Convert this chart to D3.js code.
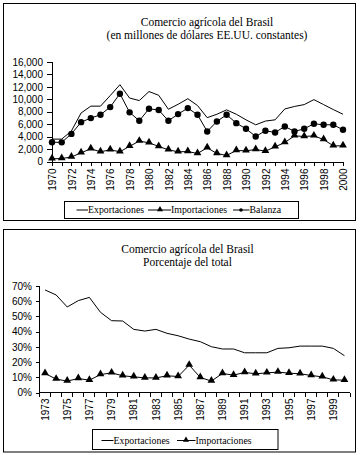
<!DOCTYPE html>
<html>
<head>
<meta charset="utf-8">
<script src="https://cdn.jsdelivr.net/npm/d3@7"></script>
<style>
  body { margin: 0; background: #fff; }
  .axis text { font-family: "Liberation Sans", Arial, sans-serif; font-size: 10px; fill: #000; }
  .axis path, .axis line { stroke: #000; shape-rendering: crispEdges; }
  .title { font-family: "Liberation Serif", "Times New Roman", serif; font-size: 11.5px; text-anchor: middle; }
  .legend text { font-family: "Liberation Serif", "Times New Roman", serif; font-size: 9.8px; }
</style>
</head>
<body>
<div id="chart"></div>
<script>
// panel 1: values in millions of constant US dollars
var years1 = d3.range(1970, 2001);
var exportaciones = [3600, 3600, 4900, 7800, 8900, 8900, 10600, 12350, 10200, 9800,
  11250, 10650, 8400, 9200, 10100, 9000, 7050, 7600, 8300, 7600,
  6700, 5900, 6500, 6700, 8450, 8850, 9150, 9950, 9150, 8350, 7600];
var importaciones = [430, 480, 720, 1400, 2040, 1560, 1880, 1560, 2450, 3280,
  3010, 2420, 1880, 1560, 1600, 1290, 2200, 1290, 970, 1770,
  1720, 1930, 1660, 2360, 3060, 4120, 4030, 4120, 3540, 2520, 2520];
var balanza = [3100, 3080, 4440, 6330, 6980, 7520, 8750, 10900, 7900, 6550,
  8480, 8270, 6550, 7620, 8590, 7520, 4830, 6440, 7520, 6170,
  5260, 4030, 4940, 4670, 5640, 4830, 5260, 6070, 5900, 5900, 5100];
var yTicks1 = d3.range(0, 16001, 2000);

// panel 2: share of total trade
var years2 = d3.range(1973, 2001);
var expShare = [0.674, 0.641, 0.562, 0.604, 0.625, 0.527, 0.472, 0.470, 0.415, 0.404,
  0.415, 0.389, 0.373, 0.351, 0.334, 0.301, 0.286, 0.286, 0.261, 0.261,
  0.261, 0.290, 0.294, 0.305, 0.305, 0.305, 0.290, 0.242];
var impShare = [0.125, 0.088, 0.075, 0.092, 0.081, 0.118, 0.129, 0.110, 0.103, 0.096,
  0.096, 0.110, 0.105, 0.180, 0.099, 0.075, 0.125, 0.114, 0.132, 0.123,
  0.129, 0.134, 0.127, 0.123, 0.112, 0.103, 0.083, 0.081];
var yTicks2 = d3.range(0, 0.71, 0.1);

var svg = d3.select("#chart").append("svg")
    .attr("width", 361)
    .attr("height", 455);

var triangle = d3.symbol().type(d3.symbolTriangle);

// ---------- panel 1 ----------
var p1 = svg.append("g");
p1.append("rect")
    .attr("x", 3.5).attr("y", 3.5).attr("width", 352).attr("height", 217)
    .attr("fill", "#fff").attr("stroke", "#000");

p1.append("text").attr("class", "title").attr("x", 207).attr("y", 26)
    .text("Comercio agrícola del Brasil");
p1.append("text").attr("class", "title").attr("x", 207).attr("y", 38.5)
    .text("(en millones de dólares EE.UU. constantes)");

var x1 = d3.scalePoint().domain(years1).range([52, 343]);
var y1 = d3.scaleLinear().domain([0, 16000]).range([161.5, 62]);

p1.append("g").attr("class", "axis")
    .attr("transform", "translate(52,0)")
    .call(d3.axisLeft(y1).tickValues(yTicks1).tickSize(5).tickPadding(4).tickFormat(d3.format(",")))
    .call(g => g.select(".domain").attr("d", "M0," + y1(16000) + "V" + y1(0)));

var xAxis1 = p1.append("g").attr("class", "axis")
    .attr("transform", "translate(0,161.5)")
    .call(d3.axisBottom(x1).tickSize(4).tickSizeOuter(0)
      .tickFormat(d => d % 2 === 0 ? d : ""));
xAxis1.selectAll("text")
    .attr("transform", "rotate(-90)")
    .attr("text-anchor", "end")
    .attr("x", -7).attr("y", 0).attr("dy", "0.36em");

var line1 = (vals) => d3.line().x((d, i) => x1(years1[i])).y(d => y1(d))(vals);

p1.append("path").attr("d", line1(exportaciones))
    .attr("fill", "none").attr("stroke", "#000").attr("stroke-width", 1);
p1.append("path").attr("d", line1(importaciones))
    .attr("fill", "none").attr("stroke", "#000").attr("stroke-width", 1);
p1.append("path").attr("d", line1(balanza))
    .attr("fill", "none").attr("stroke", "#000").attr("stroke-width", 1);

p1.selectAll(".tri").data(importaciones).enter().append("path")
    .attr("d", triangle.size(26))
    .attr("transform", (d, i) => `translate(${x1(years1[i])},${y1(d) - 0.5})`)
    .attr("fill", "#000");
p1.selectAll(".dot").data(balanza).enter().append("circle")
    .attr("cx", (d, i) => x1(years1[i]))
    .attr("cy", d => y1(d))
    .attr("r", 3.2)
    .attr("fill", "#000");

// legend 1
var lg1 = p1.append("g").attr("class", "legend");
lg1.append("rect").attr("x", 64.5).attr("y", 201.5).attr("width", 234).attr("height", 17)
    .attr("fill", "#fff").attr("stroke", "#000");
var ly1 = 210;
lg1.append("line").attr("x1", 76.5).attr("x2", 88).attr("y1", ly1).attr("y2", ly1).attr("stroke", "#000");
lg1.append("text").attr("x", 88).attr("y", ly1).attr("dy", "0.33em").text("Exportaciones");
lg1.append("line").attr("x1", 148).attr("x2", 171).attr("y1", ly1).attr("y2", ly1).attr("stroke", "#000");
lg1.append("path").attr("d", d3.symbol().type(d3.symbolTriangle).size(16)())
    .attr("transform", `translate(160,${ly1 - 0.5})`);
lg1.append("text").attr("x", 171).attr("y", ly1).attr("dy", "0.33em").text("Importaciones");
lg1.append("line").attr("x1", 233).attr("x2", 249.5).attr("y1", ly1).attr("y2", ly1).attr("stroke", "#000");
lg1.append("circle").attr("cx", 241).attr("cy", ly1).attr("r", 1.8);
lg1.append("text").attr("x", 249.5).attr("y", ly1).attr("dy", "0.33em").text("Balanza");

// ---------- panel 2 ----------
var p2 = svg.append("g");
p2.append("rect")
    .attr("x", 3.5).attr("y", 229.5).attr("width", 352).attr("height", 222.5)
    .attr("fill", "#fff").attr("stroke", "#000");

p2.append("text").attr("class", "title").attr("x", 187.5).attr("y", 252.5)
    .text("Comercio agrícola del Brasil");
p2.append("text").attr("class", "title").attr("x", 187.5).attr("y", 266)
    .text("Porcentaje del total");

var x2 = d3.scaleBand().domain(years2).range([39.5, 350]);
var y2 = d3.scaleLinear().domain([0, 0.7]).range([392.5, 286]);

p2.append("g").attr("class", "axis")
    .attr("transform", "translate(39.5,0)")
    .call(d3.axisLeft(y2).tickValues(yTicks2).tickSize(4).tickPadding(3.5).tickFormat(d3.format(".0%")))
    .call(g => g.select(".domain").attr("d", "M0," + y2(0.7) + "V" + y2(0)));

var xAxis2 = p2.append("g").attr("class", "axis")
    .attr("transform", "translate(0,392.5)")
    .call(d3.axisBottom(x2).tickSize(0).tickSizeOuter(0)
      .tickFormat(d => (d - 1973) % 2 === 0 ? d : ""));
xAxis2.select(".domain").attr("d", "M39.5,0H350");
xAxis2.selectAll("text")
    .attr("transform", "rotate(-90)")
    .attr("text-anchor", "end")
    .attr("x", -6).attr("y", 0).attr("dy", "0.36em");
// tick marks sit between categories
xAxis2.selectAll(".edge").data(years2.concat([null])).enter().append("line")
    .attr("x1", (d, i) => 39.5 + i * x2.step())
    .attr("x2", (d, i) => 39.5 + i * x2.step())
    .attr("y1", 0).attr("y2", 4);

var line2 = (vals) => d3.line().x((d, i) => x2(years2[i]) + x2.bandwidth() / 2).y(d => y2(d))(vals);

p2.append("path").attr("d", line2(expShare))
    .attr("fill", "none").attr("stroke", "#000");
p2.append("path").attr("d", line2(impShare))
    .attr("fill", "none").attr("stroke", "#000");
p2.selectAll(".tri").data(impShare).enter().append("path")
    .attr("d", triangle.size(26))
    .attr("transform", (d, i) => `translate(${x2(years2[i]) + x2.bandwidth() / 2},${y2(d) - 0.5})`)
    .attr("fill", "#000");

// legend 2
var lg2 = p2.append("g").attr("class", "legend");
lg2.append("rect").attr("x", 92.5).attr("y", 429.5).attr("width", 185.5).attr("height", 20)
    .attr("fill", "#fff").attr("stroke", "#000");
var ly2 = 440.5;
lg2.append("line").attr("x1", 101.5).attr("x2", 113.5).attr("y1", ly2).attr("y2", ly2).attr("stroke", "#000");
lg2.append("text").attr("x", 113.5).attr("y", ly2).attr("dy", "0.33em").text("Exportaciones");
lg2.append("line").attr("x1", 177).attr("x2", 195.5).attr("y1", ly2).attr("y2", ly2).attr("stroke", "#000");
lg2.append("path").attr("d", d3.symbol().type(d3.symbolTriangle).size(16)())
    .attr("transform", `translate(186,${ly2 - 0.5})`);
lg2.append("text").attr("x", 195.5).attr("y", ly2).attr("dy", "0.33em").text("Importaciones");
</script>
</body>
</html>
